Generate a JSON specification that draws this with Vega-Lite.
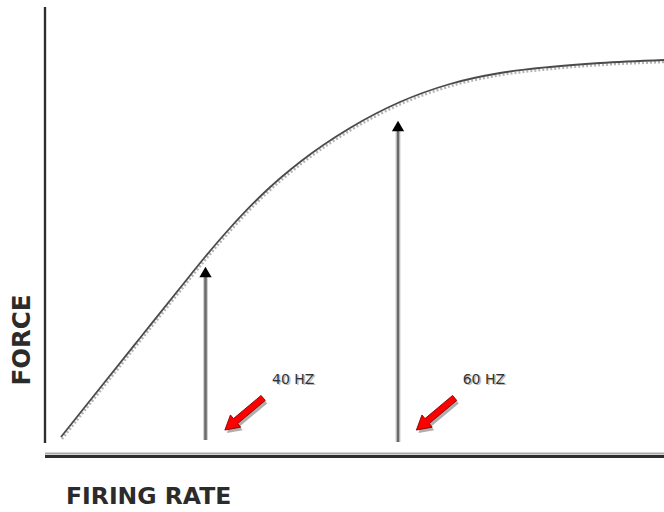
{
  "$schema": "https://vega.github.io/schema/vega-lite/v6.json",
  "width": 619,
  "height": 456,
  "autosize": {"type": "none"},
  "padding": {"left": 45, "top": 0, "right": 0, "bottom": 56},
  "background": "white",
  "config": {"view": {"stroke": null}},
  "datasets": {
    "curve": [
      {"rate": 2.58, "force": 4.17},
      {"rate": 8.89, "force": 14.91},
      {"rate": 15.35, "force": 25.88},
      {"rate": 21.81, "force": 36.84},
      {"rate": 25.85, "force": 43.64},
      {"rate": 29.89, "force": 50.0},
      {"rate": 35.86, "force": 58.33},
      {"rate": 41.2, "force": 64.47},
      {"rate": 49.27, "force": 71.93},
      {"rate": 57.35, "force": 77.63},
      {"rate": 65.43, "force": 81.58},
      {"rate": 73.51, "force": 83.99},
      {"rate": 81.58, "force": 85.31},
      {"rate": 89.66, "force": 86.18},
      {"rate": 100, "force": 86.84}
    ],
    "shafts": [
      {"rate": 25.93, "from": 3.51, "to": 39.47},
      {"rate": 57.03, "from": 3.07, "to": 71.49}
    ],
    "heads": [
      {"rate": 25.93, "force": 40.35},
      {"rate": 57.03, "force": 72.37}
    ],
    "pointers": [
      {"rate": 32.15, "force": 9.21},
      {"rate": 63.09, "force": 9.21}
    ],
    "labels": [
      {"rate": 36.67, "force": 15.79, "text": "40 HZ"},
      {"rate": 67.48, "force": 15.79, "text": "60 HZ"}
    ]
  },
  "encoding": {},
  "layer": [
    {
      "data": {"values": [{"rate": 0, "from": 2.85, "to": 98.46}]},
      "mark": {"type": "rule", "color": "#d8d8d8", "strokeWidth": 4, "clip": false},
      "encoding": {
        "x": {"field": "rate", "type": "quantitative", "scale": {"domain": [0, 100], "nice": false, "zero": false}, "axis": null},
        "y": {"field": "from", "type": "quantitative", "scale": {"domain": [0, 100], "nice": false, "zero": false}, "axis": null},
        "y2": {"field": "to"}
      }
    },
    {
      "data": {"values": [{"rate": 0, "from": 2.85, "to": 98.46}]},
      "mark": {"type": "rule", "color": "#2e2e2e", "strokeWidth": 2},
      "encoding": {
        "x": {"field": "rate", "type": "quantitative"},
        "y": {"field": "from", "type": "quantitative"},
        "y2": {"field": "to"}
      }
    },
    {
      "data": {"values": [{"from": 0, "to": 100, "force": 0}]},
      "mark": {"type": "rule", "color": "#aaaaaa", "strokeWidth": 2, "yOffset": -2.5},
      "encoding": {
        "x": {"field": "from", "type": "quantitative"},
        "x2": {"field": "to"},
        "y": {"field": "force", "type": "quantitative"}
      }
    },
    {
      "data": {"values": [{"from": 0, "to": 100, "force": 0}]},
      "mark": {"type": "rule", "color": "#2e2e2e", "strokeWidth": 3, "yOffset": 0.5},
      "encoding": {
        "x": {"field": "from", "type": "quantitative"},
        "x2": {"field": "to"},
        "y": {"field": "force", "type": "quantitative"}
      }
    },
    {
      "data": {"name": "curve"},
      "mark": {"type": "line", "color": "#b5b5b5", "strokeWidth": 2.5, "strokeDash": [2, 2], "interpolate": "monotone", "yOffset": 2, "xOffset": 1},
      "encoding": {
        "x": {"field": "rate", "type": "quantitative"},
        "y": {"field": "force", "type": "quantitative"}
      }
    },
    {
      "data": {"name": "curve"},
      "mark": {"type": "line", "color": "#4a4a4a", "strokeWidth": 1.8, "interpolate": "monotone"},
      "encoding": {
        "x": {"field": "rate", "type": "quantitative"},
        "y": {"field": "force", "type": "quantitative"}
      }
    },
    {
      "data": {"name": "shafts"},
      "mark": {"type": "rule", "color": "#d0d0d0", "strokeWidth": 5},
      "encoding": {
        "x": {"field": "rate", "type": "quantitative"},
        "y": {"field": "from", "type": "quantitative"},
        "y2": {"field": "to"}
      }
    },
    {
      "data": {"name": "shafts"},
      "mark": {"type": "rule", "color": "#6a6a6a", "strokeWidth": 2.5},
      "encoding": {
        "x": {"field": "rate", "type": "quantitative"},
        "y": {"field": "from", "type": "quantitative"},
        "y2": {"field": "to"}
      }
    },
    {
      "data": {"name": "heads"},
      "mark": {"type": "point", "shape": "triangle-up", "filled": true, "color": "#000000", "size": 150, "opacity": 1},
      "encoding": {
        "x": {"field": "rate", "type": "quantitative"},
        "y": {"field": "force", "type": "quantitative"}
      }
    },
    {
      "data": {"name": "pointers"},
      "mark": {"type": "point", "shape": "M -1 0 L -0.44 -0.32 L -0.44 -0.13 L 1 -0.13 L 1 0.13 L -0.44 0.13 L -0.44 0.32 Z", "filled": true, "color": "#9a9a9a", "opacity": 0.8, "size": 2500, "angle": 320, "xOffset": 2, "yOffset": 3},
      "encoding": {
        "x": {"field": "rate", "type": "quantitative"},
        "y": {"field": "force", "type": "quantitative"}
      }
    },
    {
      "data": {"name": "pointers"},
      "mark": {"type": "point", "shape": "M -1 0 L -0.44 -0.32 L -0.44 -0.13 L 1 -0.13 L 1 0.13 L -0.44 0.13 L -0.44 0.32 Z", "filled": true, "fill": "#ff0000", "stroke": "#7a0000", "strokeWidth": 0.8, "opacity": 1, "size": 2500, "angle": 320},
      "encoding": {
        "x": {"field": "rate", "type": "quantitative"},
        "y": {"field": "force", "type": "quantitative"}
      }
    },
    {
      "data": {"name": "labels"},
      "mark": {"type": "text", "align": "left", "baseline": "alphabetic", "font": "DejaVu Sans", "fontSize": 14, "color": "#bbbbbb", "dx": 1.5, "dy": 1.5},
      "encoding": {
        "x": {"field": "rate", "type": "quantitative"},
        "y": {"field": "force", "type": "quantitative"},
        "text": {"field": "text"}
      }
    },
    {
      "data": {"name": "labels"},
      "mark": {"type": "text", "align": "left", "baseline": "alphabetic", "font": "DejaVu Sans", "fontSize": 14, "color": "#333333"},
      "encoding": {
        "x": {"field": "rate", "type": "quantitative"},
        "y": {"field": "force", "type": "quantitative"},
        "text": {"field": "text"}
      }
    },
    {
      "data": {"values": [{"rate": 3.39, "force": -8.99, "text": "FIRING RATE"}]},
      "mark": {"type": "text", "align": "left", "baseline": "middle", "font": "DejaVu Sans", "fontWeight": "bold", "fontSize": 23.5, "color": "#2b2b2b"},
      "encoding": {
        "x": {"field": "rate", "type": "quantitative"},
        "y": {"field": "force", "type": "quantitative"},
        "text": {"field": "text"}
      }
    },
    {
      "data": {"values": [{"rate": -3.55, "force": 25.44, "text": "FORCE"}]},
      "mark": {"type": "text", "align": "center", "baseline": "middle", "angle": 270, "font": "DejaVu Sans", "fontWeight": "bold", "fontSize": 24.5, "color": "#2b2b2b"},
      "encoding": {
        "x": {"field": "rate", "type": "quantitative"},
        "y": {"field": "force", "type": "quantitative"},
        "text": {"field": "text"}
      }
    }
  ]
}
